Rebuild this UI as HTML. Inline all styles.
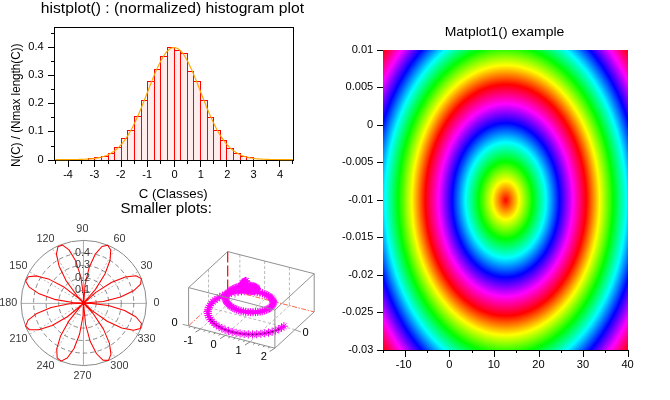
<!DOCTYPE html>
<html>
<head>
<meta charset="utf-8">
<title>Scilab plots</title>
<style>
html,body{margin:0;padding:0;background:#fff;}
#fig{position:relative;width:670px;height:400px;overflow:hidden;background:#fff;font-family:"Liberation Sans",sans-serif;}
#matimg{position:absolute;left:383px;top:50px;width:245px;height:300px;
background:repeating-radial-gradient(ellipse 80.5px 115.6px at 122.7px 150.2px,
#ff0000 0%,#ffff00 16.667%,#00ff00 33.333%,#00ffff 50%,#0000ff 66.667%,#ff00ff 83.333%,#ff0000 100%);}
svg{position:absolute;left:0;top:0;will-change:transform;}
svg text{font-family:"Liberation Sans",sans-serif;}
</style>
</head>
<body>
<div id="fig">
<div id="matimg"></div>
<svg width="670" height="400" viewBox="0 0 670 400">
<g id="hist">
<rect x="88.30" y="158.69" width="6.60" height="1.41" fill="#ffeded"/>
<path d="M88.30 159.60V158.69H94.90V159.60" fill="none" stroke="#ff0000" stroke-width="1" shape-rendering="crispEdges"/>
<rect x="94.90" y="157.98" width="6.60" height="2.12" fill="#ffeded"/>
<path d="M94.90 159.60V157.98H101.50V159.60" fill="none" stroke="#ff0000" stroke-width="1" shape-rendering="crispEdges"/>
<rect x="101.50" y="156.43" width="6.60" height="3.67" fill="#ffeded"/>
<path d="M101.50 159.60V156.43H108.10V159.60" fill="none" stroke="#ff0000" stroke-width="1" shape-rendering="crispEdges"/>
<rect x="108.10" y="153.42" width="6.60" height="6.68" fill="#ffeded"/>
<path d="M108.10 159.60V153.42H114.70V159.60" fill="none" stroke="#ff0000" stroke-width="1" shape-rendering="crispEdges"/>
<rect x="114.70" y="147.41" width="6.60" height="12.69" fill="#ffeded"/>
<path d="M114.70 159.60V147.41H121.30V159.60" fill="none" stroke="#ff0000" stroke-width="1" shape-rendering="crispEdges"/>
<rect x="121.30" y="138.78" width="6.60" height="21.32" fill="#ffeded"/>
<path d="M121.30 159.60V138.78H127.90V159.60" fill="none" stroke="#ff0000" stroke-width="1" shape-rendering="crispEdges"/>
<rect x="127.90" y="130.77" width="6.60" height="29.33" fill="#ffeded"/>
<path d="M127.90 159.60V130.77H134.50V159.60" fill="none" stroke="#ff0000" stroke-width="1" shape-rendering="crispEdges"/>
<rect x="134.50" y="116.67" width="6.60" height="43.43" fill="#ffeded"/>
<path d="M134.50 159.60V116.67H141.10V159.60" fill="none" stroke="#ff0000" stroke-width="1" shape-rendering="crispEdges"/>
<rect x="141.10" y="100.60" width="6.60" height="59.50" fill="#ffeded"/>
<path d="M141.10 159.60V100.60H147.70V159.60" fill="none" stroke="#ff0000" stroke-width="1" shape-rendering="crispEdges"/>
<rect x="147.70" y="81.70" width="6.60" height="78.40" fill="#ffeded"/>
<path d="M147.70 159.60V81.70H154.30V159.60" fill="none" stroke="#ff0000" stroke-width="1" shape-rendering="crispEdges"/>
<rect x="154.30" y="69.86" width="6.60" height="90.24" fill="#ffeded"/>
<path d="M154.30 159.60V69.86H160.90V159.60" fill="none" stroke="#ff0000" stroke-width="1" shape-rendering="crispEdges"/>
<rect x="160.90" y="56.61" width="6.60" height="103.49" fill="#ffeded"/>
<path d="M160.90 159.60V56.61H167.50V159.60" fill="none" stroke="#ff0000" stroke-width="1" shape-rendering="crispEdges"/>
<rect x="167.50" y="47.86" width="6.60" height="112.24" fill="#ffeded"/>
<path d="M167.50 159.60V47.86H174.10V159.60" fill="none" stroke="#ff0000" stroke-width="1" shape-rendering="crispEdges"/>
<rect x="174.10" y="50.68" width="6.60" height="109.42" fill="#ffeded"/>
<path d="M174.10 159.60V50.68H180.70V159.60" fill="none" stroke="#ff0000" stroke-width="1" shape-rendering="crispEdges"/>
<rect x="180.70" y="53.79" width="6.60" height="106.31" fill="#ffeded"/>
<path d="M180.70 159.60V53.79H187.30V159.60" fill="none" stroke="#ff0000" stroke-width="1" shape-rendering="crispEdges"/>
<rect x="187.30" y="71.55" width="6.60" height="88.55" fill="#ffeded"/>
<path d="M187.30 159.60V71.55H193.90V159.60" fill="none" stroke="#ff0000" stroke-width="1" shape-rendering="crispEdges"/>
<rect x="193.90" y="81.14" width="6.60" height="78.96" fill="#ffeded"/>
<path d="M193.90 159.60V81.14H200.50V159.60" fill="none" stroke="#ff0000" stroke-width="1" shape-rendering="crispEdges"/>
<rect x="200.50" y="100.60" width="6.60" height="59.50" fill="#ffeded"/>
<path d="M200.50 159.60V100.60H207.10V159.60" fill="none" stroke="#ff0000" stroke-width="1" shape-rendering="crispEdges"/>
<rect x="207.10" y="117.52" width="6.60" height="42.58" fill="#ffeded"/>
<path d="M207.10 159.60V117.52H213.70V159.60" fill="none" stroke="#ff0000" stroke-width="1" shape-rendering="crispEdges"/>
<rect x="213.70" y="130.49" width="6.60" height="29.61" fill="#ffeded"/>
<path d="M213.70 159.60V130.49H220.30V159.60" fill="none" stroke="#ff0000" stroke-width="1" shape-rendering="crispEdges"/>
<rect x="220.30" y="140.08" width="6.60" height="20.02" fill="#ffeded"/>
<path d="M220.30 159.60V140.08H226.90V159.60" fill="none" stroke="#ff0000" stroke-width="1" shape-rendering="crispEdges"/>
<rect x="226.90" y="148.26" width="6.60" height="11.84" fill="#ffeded"/>
<path d="M226.90 159.60V148.26H233.50V159.60" fill="none" stroke="#ff0000" stroke-width="1" shape-rendering="crispEdges"/>
<rect x="233.50" y="153.33" width="6.60" height="6.77" fill="#ffeded"/>
<path d="M233.50 159.60V153.33H240.10V159.60" fill="none" stroke="#ff0000" stroke-width="1" shape-rendering="crispEdges"/>
<rect x="240.10" y="156.29" width="6.60" height="3.81" fill="#ffeded"/>
<path d="M240.10 159.60V156.29H246.70V159.60" fill="none" stroke="#ff0000" stroke-width="1" shape-rendering="crispEdges"/>
<rect x="246.70" y="157.56" width="6.60" height="2.54" fill="#ffeded"/>
<path d="M246.70 159.60V157.56H253.30V159.60" fill="none" stroke="#ff0000" stroke-width="1" shape-rendering="crispEdges"/>
<rect x="54.5" y="27.3" width="239.0" height="133.0" fill="none" stroke="#000" stroke-width="1" shape-rendering="crispEdges"/>
<polyline points="55.30,159.60 56.49,159.59 57.68,159.59 58.86,159.59 60.05,159.59 61.24,159.59 62.43,159.59 63.62,159.58 64.80,159.58 65.99,159.57 67.18,159.57 68.37,159.56 69.56,159.56 70.74,159.55 71.93,159.54 73.12,159.53 74.31,159.51 75.50,159.50 76.68,159.48 77.87,159.45 79.06,159.43 80.25,159.40 81.44,159.36 82.62,159.32 83.81,159.28 85.00,159.22 86.19,159.16 87.38,159.09 88.56,159.01 89.75,158.92 90.94,158.81 92.13,158.70 93.32,158.56 94.50,158.41 95.69,158.24 96.88,158.04 98.07,157.83 99.26,157.58 100.44,157.31 101.63,157.01 102.82,156.67 104.01,156.30 105.20,155.88 106.38,155.42 107.57,154.92 108.76,154.36 109.95,153.75 111.14,153.08 112.32,152.35 113.51,151.55 114.70,150.68 115.89,149.74 117.08,148.72 118.26,147.63 119.45,146.44 120.64,145.17 121.83,143.81 123.02,142.36 124.20,140.81 125.39,139.16 126.58,137.42 127.77,135.57 128.96,133.62 130.14,131.57 131.33,129.42 132.52,127.17 133.71,124.82 134.90,122.38 136.08,119.85 137.27,117.23 138.46,114.53 139.65,111.76 140.84,108.92 142.02,106.01 143.21,103.06 144.40,100.06 145.59,97.03 146.78,93.99 147.96,90.93 149.15,87.87 150.34,84.83 151.53,81.82 152.72,78.85 153.90,75.94 155.09,73.09 156.28,70.34 157.47,67.68 158.66,65.13 159.84,62.71 161.03,60.42 162.22,58.29 163.41,56.32 164.60,54.53 165.78,52.92 166.97,51.51 168.16,50.30 169.35,49.30 170.54,48.51 171.72,47.95 172.91,47.61 174.10,47.50 175.29,47.61 176.48,47.95 177.66,48.51 178.85,49.30 180.04,50.30 181.23,51.51 182.42,52.92 183.60,54.53 184.79,56.32 185.98,58.29 187.17,60.42 188.36,62.71 189.54,65.13 190.73,67.68 191.92,70.34 193.11,73.09 194.30,75.94 195.48,78.85 196.67,81.82 197.86,84.83 199.05,87.87 200.24,90.93 201.42,93.99 202.61,97.03 203.80,100.06 204.99,103.06 206.18,106.01 207.36,108.92 208.55,111.76 209.74,114.53 210.93,117.23 212.12,119.85 213.30,122.38 214.49,124.82 215.68,127.17 216.87,129.42 218.06,131.57 219.24,133.62 220.43,135.57 221.62,137.42 222.81,139.16 224.00,140.81 225.18,142.36 226.37,143.81 227.56,145.17 228.75,146.44 229.94,147.63 231.12,148.72 232.31,149.74 233.50,150.68 234.69,151.55 235.88,152.35 237.06,153.08 238.25,153.75 239.44,154.36 240.63,154.92 241.82,155.42 243.00,155.88 244.19,156.30 245.38,156.67 246.57,157.01 247.76,157.31 248.94,157.58 250.13,157.83 251.32,158.04 252.51,158.24 253.70,158.41 254.88,158.56 256.07,158.70 257.26,158.81 258.45,158.92 259.64,159.01 260.82,159.09 262.01,159.16 263.20,159.22 264.39,159.28 265.58,159.32 266.76,159.36 267.95,159.40 269.14,159.43 270.33,159.45 271.52,159.48 272.70,159.50 273.89,159.51 275.08,159.53 276.27,159.54 277.46,159.55 278.64,159.56 279.83,159.56 281.02,159.57 282.21,159.57 283.40,159.58 284.58,159.58 285.77,159.59 286.96,159.59 288.15,159.59 289.34,159.59 290.52,159.59 291.71,159.59 292.90,159.60" fill="none" stroke="#ffa800" stroke-width="1.15"/>
<line x1="55.30" y1="160.3" x2="55.30" y2="163.60000000000002" stroke="#000" stroke-width="1" shape-rendering="crispEdges"/>
<line x1="68.50" y1="160.3" x2="68.50" y2="166.60000000000002" stroke="#000" stroke-width="1" shape-rendering="crispEdges"/>
<line x1="81.70" y1="160.3" x2="81.70" y2="163.60000000000002" stroke="#000" stroke-width="1" shape-rendering="crispEdges"/>
<line x1="94.90" y1="160.3" x2="94.90" y2="166.60000000000002" stroke="#000" stroke-width="1" shape-rendering="crispEdges"/>
<line x1="108.10" y1="160.3" x2="108.10" y2="163.60000000000002" stroke="#000" stroke-width="1" shape-rendering="crispEdges"/>
<line x1="121.30" y1="160.3" x2="121.30" y2="166.60000000000002" stroke="#000" stroke-width="1" shape-rendering="crispEdges"/>
<line x1="134.50" y1="160.3" x2="134.50" y2="163.60000000000002" stroke="#000" stroke-width="1" shape-rendering="crispEdges"/>
<line x1="147.70" y1="160.3" x2="147.70" y2="166.60000000000002" stroke="#000" stroke-width="1" shape-rendering="crispEdges"/>
<line x1="160.90" y1="160.3" x2="160.90" y2="163.60000000000002" stroke="#000" stroke-width="1" shape-rendering="crispEdges"/>
<line x1="174.10" y1="160.3" x2="174.10" y2="166.60000000000002" stroke="#000" stroke-width="1" shape-rendering="crispEdges"/>
<line x1="187.30" y1="160.3" x2="187.30" y2="163.60000000000002" stroke="#000" stroke-width="1" shape-rendering="crispEdges"/>
<line x1="200.50" y1="160.3" x2="200.50" y2="166.60000000000002" stroke="#000" stroke-width="1" shape-rendering="crispEdges"/>
<line x1="213.70" y1="160.3" x2="213.70" y2="163.60000000000002" stroke="#000" stroke-width="1" shape-rendering="crispEdges"/>
<line x1="226.90" y1="160.3" x2="226.90" y2="166.60000000000002" stroke="#000" stroke-width="1" shape-rendering="crispEdges"/>
<line x1="240.10" y1="160.3" x2="240.10" y2="163.60000000000002" stroke="#000" stroke-width="1" shape-rendering="crispEdges"/>
<line x1="253.30" y1="160.3" x2="253.30" y2="166.60000000000002" stroke="#000" stroke-width="1" shape-rendering="crispEdges"/>
<line x1="266.50" y1="160.3" x2="266.50" y2="163.60000000000002" stroke="#000" stroke-width="1" shape-rendering="crispEdges"/>
<line x1="279.70" y1="160.3" x2="279.70" y2="166.60000000000002" stroke="#000" stroke-width="1" shape-rendering="crispEdges"/>
<line x1="292.90" y1="160.3" x2="292.90" y2="163.60000000000002" stroke="#000" stroke-width="1" shape-rendering="crispEdges"/>
<text x="68.00" y="178.00" font-size="10.3" text-anchor="middle" fill="#000" textLength="9.67" lengthAdjust="spacingAndGlyphs">-4</text>
<text x="94.40" y="178.00" font-size="10.3" text-anchor="middle" fill="#000" textLength="9.67" lengthAdjust="spacingAndGlyphs">-3</text>
<text x="120.80" y="178.00" font-size="10.3" text-anchor="middle" fill="#000" textLength="9.67" lengthAdjust="spacingAndGlyphs">-2</text>
<text x="147.20" y="178.00" font-size="10.3" text-anchor="middle" fill="#000" textLength="9.67" lengthAdjust="spacingAndGlyphs">-1</text>
<text x="174.50" y="178.00" font-size="10.3" text-anchor="middle" fill="#000" textLength="6.17" lengthAdjust="spacingAndGlyphs">0</text>
<text x="200.90" y="178.00" font-size="10.3" text-anchor="middle" fill="#000" textLength="6.17" lengthAdjust="spacingAndGlyphs">1</text>
<text x="227.30" y="178.00" font-size="10.3" text-anchor="middle" fill="#000" textLength="6.17" lengthAdjust="spacingAndGlyphs">2</text>
<text x="253.70" y="178.00" font-size="10.3" text-anchor="middle" fill="#000" textLength="6.17" lengthAdjust="spacingAndGlyphs">3</text>
<text x="280.10" y="178.00" font-size="10.3" text-anchor="middle" fill="#000" textLength="6.17" lengthAdjust="spacingAndGlyphs">4</text>
<line x1="48.0" y1="160.10" x2="54.5" y2="160.10" stroke="#000" stroke-width="1" shape-rendering="crispEdges"/>
<line x1="50.9" y1="146.00" x2="54.5" y2="146.00" stroke="#000" stroke-width="1" shape-rendering="crispEdges"/>
<line x1="48.0" y1="131.90" x2="54.5" y2="131.90" stroke="#000" stroke-width="1" shape-rendering="crispEdges"/>
<line x1="50.9" y1="117.80" x2="54.5" y2="117.80" stroke="#000" stroke-width="1" shape-rendering="crispEdges"/>
<line x1="48.0" y1="103.70" x2="54.5" y2="103.70" stroke="#000" stroke-width="1" shape-rendering="crispEdges"/>
<line x1="50.9" y1="89.60" x2="54.5" y2="89.60" stroke="#000" stroke-width="1" shape-rendering="crispEdges"/>
<line x1="48.0" y1="75.50" x2="54.5" y2="75.50" stroke="#000" stroke-width="1" shape-rendering="crispEdges"/>
<line x1="50.9" y1="61.40" x2="54.5" y2="61.40" stroke="#000" stroke-width="1" shape-rendering="crispEdges"/>
<line x1="48.0" y1="47.30" x2="54.5" y2="47.30" stroke="#000" stroke-width="1" shape-rendering="crispEdges"/>
<line x1="50.9" y1="33.20" x2="54.5" y2="33.20" stroke="#000" stroke-width="1" shape-rendering="crispEdges"/>
<text x="43.80" y="163.00" font-size="10.3" text-anchor="end" fill="#000" textLength="6.17" lengthAdjust="spacingAndGlyphs">0</text>
<text x="43.80" y="134.00" font-size="10.3" text-anchor="end" fill="#000" textLength="15.42" lengthAdjust="spacingAndGlyphs">0.1</text>
<text x="43.80" y="106.00" font-size="10.3" text-anchor="end" fill="#000" textLength="15.42" lengthAdjust="spacingAndGlyphs">0.2</text>
<text x="43.80" y="78.00" font-size="10.3" text-anchor="end" fill="#000" textLength="15.42" lengthAdjust="spacingAndGlyphs">0.3</text>
<text x="43.80" y="50.00" font-size="10.3" text-anchor="end" fill="#000" textLength="15.42" lengthAdjust="spacingAndGlyphs">0.4</text>
<text x="172.40" y="12.70" font-size="14.6" text-anchor="middle" fill="#000" textLength="263.20" lengthAdjust="spacingAndGlyphs">histplot() : (normalized) histogram plot</text>
<text x="173.20" y="197.90" font-size="12.2" text-anchor="middle" fill="#000" textLength="69.00" lengthAdjust="spacingAndGlyphs">C (Classes)</text>
<text transform="translate(20,105.4) rotate(-90)" font-size="12.4" text-anchor="middle" textLength="123.4" lengthAdjust="spacingAndGlyphs">N(C) / (Nmax length(C))</text>
<text x="166.20" y="212.90" font-size="14.8" text-anchor="middle" fill="#000" textLength="91.30" lengthAdjust="spacingAndGlyphs">Smaller plots:</text>
</g>
<g id="polar" fill="none">
<line x1="83.7" y1="303.4" x2="146.30" y2="303.4" stroke="#a4a4a4" stroke-width="0.9"/>
<line x1="83.7" y1="303.0" x2="137.91" y2="271.70" stroke="#a0a0a0" stroke-width="0.7" stroke-dasharray="2,2"/>
<line x1="83.7" y1="303.0" x2="115.00" y2="248.79" stroke="#a0a0a0" stroke-width="0.7" stroke-dasharray="2,2"/>
<line x1="83.45" y1="303.0" x2="83.45" y2="240.40" stroke="#a4a4a4" stroke-width="0.9"/>
<line x1="83.7" y1="303.0" x2="52.40" y2="248.79" stroke="#a0a0a0" stroke-width="0.7" stroke-dasharray="2,2"/>
<line x1="83.7" y1="303.0" x2="29.49" y2="271.70" stroke="#a0a0a0" stroke-width="0.7" stroke-dasharray="2,2"/>
<line x1="83.7" y1="303.4" x2="21.10" y2="303.4" stroke="#a4a4a4" stroke-width="0.9"/>
<line x1="83.7" y1="303.0" x2="29.49" y2="334.30" stroke="#a0a0a0" stroke-width="0.7" stroke-dasharray="2,2"/>
<line x1="83.7" y1="303.0" x2="52.40" y2="357.21" stroke="#a0a0a0" stroke-width="0.7" stroke-dasharray="2,2"/>
<line x1="83.45" y1="303.0" x2="83.45" y2="365.60" stroke="#a4a4a4" stroke-width="0.9"/>
<line x1="83.7" y1="303.0" x2="115.00" y2="357.21" stroke="#a0a0a0" stroke-width="0.7" stroke-dasharray="2,2"/>
<line x1="83.7" y1="303.0" x2="137.91" y2="334.30" stroke="#a0a0a0" stroke-width="0.7" stroke-dasharray="2,2"/>
<circle cx="83.7" cy="303.0" r="12.52" stroke="#6c6c6c" stroke-width="0.8" stroke-dasharray="4.5,3"/>
<circle cx="83.7" cy="303.0" r="25.04" stroke="#6c6c6c" stroke-width="0.8" stroke-dasharray="4.5,3"/>
<circle cx="83.7" cy="303.0" r="37.56" stroke="#6c6c6c" stroke-width="0.8" stroke-dasharray="4.5,3"/>
<circle cx="83.7" cy="303.0" r="50.08" stroke="#6c6c6c" stroke-width="0.8" stroke-dasharray="4.5,3"/>
<circle cx="83.7" cy="303.0" r="62.6" stroke="#8a8a8a" stroke-width="1"/>
<polyline points="83.70,303.00 103.33,301.43 120.61,297.04 133.51,290.81 140.63,284.13 141.33,278.63 135.87,275.84 125.30,276.92 111.28,282.46 95.87,292.32 81.15,305.62 68.96,320.82 60.61,335.97 56.72,348.96 57.16,357.83 61.10,361.12 67.22,358.06 73.92,348.71 79.62,334.01 83.06,315.62 83.49,295.71 80.81,276.67 75.62,260.79 69.04,249.87 62.60,245.07 57.93,246.68 56.44,254.17 59.12,266.22 66.29,280.99 77.55,296.39 91.75,310.37 107.17,321.28 121.77,328.03 133.46,330.29 140.44,328.45 141.45,323.53 136.04,317.01 124.59,310.51 108.32,305.51 89.10,303.12 69.23,303.85 51.10,307.54 36.85,313.40 28.07,320.11 25.62,326.09 29.49,329.75 38.83,329.80 52.11,325.48 67.35,316.73 82.45,304.23 95.48,289.36 104.96,273.99 110.07,260.22 110.75,250.06 107.64,245.16 101.95,246.48 95.25,254.18 89.14,267.58 84.99,285.17 83.71,304.91 85.58,324.41 90.19,341.35 96.53,353.75 103.16,360.27 108.47,360.37 110.94,354.37 109.45,343.38 103.48,329.14 93.24,313.71 79.69,299.16 64.40,287.29 49.36,279.35 36.69,275.89 28.30,276.70 25.59,280.92 29.27,287.16 39.18,293.83 54.31,299.36 72.95,302.54 83.70,303.00" stroke="#ff0000" stroke-width="1.05" stroke-linejoin="round"/>
</g>
<g id="polarlabels">
<text x="82.50" y="293.00" font-size="10.0" text-anchor="middle" fill="#3a3a3a" textLength="15.03" lengthAdjust="spacingAndGlyphs">0.1</text>
<text x="82.50" y="281.00" font-size="10.0" text-anchor="middle" fill="#3a3a3a" textLength="15.03" lengthAdjust="spacingAndGlyphs">0.2</text>
<text x="82.50" y="268.00" font-size="10.0" text-anchor="middle" fill="#3a3a3a" textLength="15.03" lengthAdjust="spacingAndGlyphs">0.3</text>
<text x="82.50" y="256.00" font-size="10.0" text-anchor="middle" fill="#3a3a3a" textLength="15.03" lengthAdjust="spacingAndGlyphs">0.4</text>
<text x="82.40" y="232.00" font-size="10.0" text-anchor="middle" fill="#3a3a3a" textLength="12.02" lengthAdjust="spacingAndGlyphs">90</text>
<text x="119.45" y="242.00" font-size="10.0" text-anchor="middle" fill="#3a3a3a" textLength="12.02" lengthAdjust="spacingAndGlyphs">60</text>
<text x="146.50" y="269.00" font-size="10.0" text-anchor="middle" fill="#3a3a3a" textLength="12.02" lengthAdjust="spacingAndGlyphs">30</text>
<text x="156.60" y="306.00" font-size="10.0" text-anchor="middle" fill="#3a3a3a" textLength="6.01" lengthAdjust="spacingAndGlyphs">0</text>
<text x="146.50" y="342.00" font-size="10.0" text-anchor="middle" fill="#3a3a3a" textLength="18.03" lengthAdjust="spacingAndGlyphs">330</text>
<text x="119.40" y="369.00" font-size="10.0" text-anchor="middle" fill="#3a3a3a" textLength="18.03" lengthAdjust="spacingAndGlyphs">300</text>
<text x="82.50" y="379.00" font-size="10.0" text-anchor="middle" fill="#3a3a3a" textLength="18.03" lengthAdjust="spacingAndGlyphs">270</text>
<text x="45.55" y="369.00" font-size="10.0" text-anchor="middle" fill="#3a3a3a" textLength="18.03" lengthAdjust="spacingAndGlyphs">240</text>
<text x="18.50" y="342.00" font-size="10.0" text-anchor="middle" fill="#3a3a3a" textLength="18.03" lengthAdjust="spacingAndGlyphs">210</text>
<text x="8.35" y="306.00" font-size="10.0" text-anchor="middle" fill="#3a3a3a" textLength="18.03" lengthAdjust="spacingAndGlyphs">180</text>
<text x="18.40" y="269.00" font-size="10.0" text-anchor="middle" fill="#3a3a3a" textLength="18.03" lengthAdjust="spacingAndGlyphs">150</text>
<text x="45.60" y="242.00" font-size="10.0" text-anchor="middle" fill="#3a3a3a" textLength="18.03" lengthAdjust="spacingAndGlyphs">120</text>
</g>
<g id="p3d" fill="none">
<line x1="227.70" y1="251.60" x2="227.70" y2="289.80" stroke="#ff0000" stroke-width="1.2" stroke-dasharray="11,3"/>
<line x1="227.70" y1="289.80" x2="188.60" y2="325.80" stroke="#ff3010" stroke-width="0.75" stroke-dasharray="5,1.5,1.5,1.5"/>
<line x1="227.70" y1="289.80" x2="314.20" y2="311.90" stroke="#ff3010" stroke-width="0.75" stroke-dasharray="5,1.5,1.5,1.5"/>
<line x1="239.84" y1="254.70" x2="239.84" y2="292.90" stroke="#a8a8a8" stroke-width="0.8" stroke-dasharray="3,2"/>
<line x1="239.84" y1="292.90" x2="200.72" y2="328.94" stroke="#a8a8a8" stroke-width="0.8" stroke-dasharray="3,2"/>
<line x1="264.63" y1="261.04" x2="264.63" y2="299.24" stroke="#a8a8a8" stroke-width="0.8" stroke-dasharray="3,2"/>
<line x1="264.63" y1="299.24" x2="225.44" y2="335.36" stroke="#a8a8a8" stroke-width="0.8" stroke-dasharray="3,2"/>
<line x1="289.41" y1="267.37" x2="289.41" y2="305.57" stroke="#a8a8a8" stroke-width="0.8" stroke-dasharray="3,2"/>
<line x1="289.41" y1="305.57" x2="250.17" y2="341.78" stroke="#a8a8a8" stroke-width="0.8" stroke-dasharray="3,2"/>
<line x1="294.94" y1="329.69" x2="208.54" y2="307.44" stroke="#a8a8a8" stroke-width="0.8" stroke-dasharray="3,2"/>
<line x1="208.54" y1="307.44" x2="208.54" y2="269.24" stroke="#a8a8a8" stroke-width="0.8" stroke-dasharray="3,2"/>
</g>
<defs><marker id="ast" markerWidth="9" markerHeight="9" refX="4.5" refY="4.5" markerUnits="userSpaceOnUse" orient="0">
<path d="M0.5 4.5H8.5M4.5 0.4V8.6M1.8 1.8L7.2 7.2M7.2 1.8L1.8 7.2" stroke="#ff00ff" stroke-width="1.0" fill="none"/></marker>
<marker id="dot" markerWidth="3" markerHeight="3" refX="1.5" refY="1.5" markerUnits="userSpaceOnUse"><circle cx="1.5" cy="1.5" r="0.7" fill="#000" fill-opacity="0.6"/></marker></defs>
<polyline points="283.9,326.2 281.5,327.8 278.7,329.2 275.6,330.5 272.2,331.7 268.5,332.6 264.7,333.3 260.8,333.9 256.7,334.2 252.5,334.4 248.3,334.3 244.2,334.0 240.1,333.5 236.1,332.8 232.2,332.0 228.6,330.9 225.1,329.7 221.9,328.3 219.0,326.8 216.3,325.1 214.0,323.4 212.1,321.5 210.5,319.6 209.2,317.6 208.4,315.5 207.9,313.5 207.9,311.4 208.2,309.4 208.8,307.4 209.9,305.5 211.2,303.6 212.9,301.8 214.9,300.1 217.2,298.6 219.7,297.1 222.4,295.8 225.3,294.7 228.4,293.7 231.6,292.8 234.9,292.2 238.2,291.7 241.5,291.3 244.8,291.1 248.1,291.1 251.2,291.3 254.3,291.6 257.2,292.0 259.9,292.6 262.5,293.2 264.8,294.0 266.8,294.9 268.6,295.9 270.1,297.0 271.4,298.1 272.3,299.2 273.0,300.4 273.3,301.6 273.4,302.8 273.2,304.0 272.6,305.1 271.8,306.2 270.8,307.2 269.5,308.2 268.0,309.0 266.3,309.8 264.4,310.5 262.3,311.1 260.1,311.6 257.8,311.9 255.5,312.1 253.0,312.2 250.6,312.2 248.1,312.0 245.7,311.8 243.3,311.4 241.0,310.9 238.8,310.3 236.7,309.5 234.8,308.7 233.0,307.8 231.4,306.8 229.9,305.8 228.7,304.7 227.7,303.6 226.8,302.4 226.2,301.2 225.8,300.0 225.6,298.7 225.7,297.5 225.9,296.3 226.3,295.2 226.9,294.0 227.7,293.0 228.7,292.0 229.8,291.0 231.0,290.1 232.3,289.3 233.8,288.6 235.3,287.9 236.9,287.3 238.5,286.8 240.1,286.4 241.7,286.1 243.3,285.9 244.9,285.7 246.5,285.7 247.9,285.6 249.3,285.7 250.6,285.8 251.8,286.0 252.9,286.2 253.8,286.5 254.7,286.8 255.3,287.2 255.9,287.5 256.3,287.9 256.6,288.2 256.8,288.6 256.8,289.0 256.7,289.3 256.5,289.6 256.1,289.9 255.7,290.2 255.2,290.4 254.6,290.6 253.9,290.8 253.2,290.8 252.4,290.9 251.6,290.9 250.8,290.8 250.0,290.7 249.2,290.6 248.3,290.4 247.6,290.1 246.8,289.9 246.1,289.5 245.5,289.2 244.9,288.8 244.3,288.4 243.9,287.9 243.5,287.5 243.2,287.0 242.9,286.5 242.8,286.1 242.7,285.6 242.7,285.1 242.7,284.7 242.8,284.3 243.0,283.8 243.2,283.4 243.4,283.1 243.7,282.7 244.0,282.4 244.3,282.1 244.6,281.8 244.9,281.6 245.2,281.4 245.5,281.2 245.7,281.1 246.0,280.9" fill="none" stroke="#ff00ff" stroke-width="2.3" stroke-linejoin="round" stroke-linecap="round" stroke-opacity="0.92"/>
<polyline points="231.6,292.8 234.9,292.2 238.2,291.7 241.5,291.3 244.8,291.1 248.1,291.1 251.2,291.3 254.3,291.6 257.2,292.0 259.9,292.6 262.5,293.2 264.8,294.0 266.8,294.9 268.6,295.9 270.1,297.0 271.4,298.1 272.3,299.2 273.0,300.4 273.3,301.6 273.4,302.8 273.2,304.0 272.6,305.1 271.8,306.2 270.8,307.2 269.5,308.2 268.0,309.0 266.3,309.8 264.4,310.5 262.3,311.1 260.1,311.6 257.8,311.9 255.5,312.1 253.0,312.2 250.6,312.2 248.1,312.0 245.7,311.8 243.3,311.4 241.0,310.9 238.8,310.3 236.7,309.5 234.8,308.7 233.0,307.8 231.4,306.8 229.9,305.8 228.7,304.7 227.7,303.6 226.8,302.4 226.2,301.2 225.8,300.0 225.6,298.7 225.7,297.5 225.9,296.3 226.3,295.2 226.9,294.0 227.7,293.0 228.7,292.0 229.8,291.0 231.0,290.1 232.3,289.3 233.8,288.6 235.3,287.9 236.9,287.3 238.5,286.8 240.1,286.4 241.7,286.1 243.3,285.9 244.9,285.7 246.5,285.7 247.9,285.6 249.3,285.7 250.6,285.8 251.8,286.0 252.9,286.2 253.8,286.5 254.7,286.8 255.3,287.2 255.9,287.5 256.3,287.9 256.6,288.2 256.8,288.6 256.8,289.0 256.7,289.3 256.5,289.6 256.1,289.9 255.7,290.2 255.2,290.4 254.6,290.6 253.9,290.8 253.2,290.8 252.4,290.9 251.6,290.9 250.8,290.8 250.0,290.7 249.2,290.6 248.3,290.4 247.6,290.1 246.8,289.9 246.1,289.5 245.5,289.2 244.9,288.8 244.3,288.4 243.9,287.9 243.5,287.5 243.2,287.0 242.9,286.5 242.8,286.1 242.7,285.6 242.7,285.1 242.7,284.7 242.8,284.3 243.0,283.8 243.2,283.4 243.4,283.1 243.7,282.7 244.0,282.4 244.3,282.1 244.6,281.8 244.9,281.6 245.2,281.4 245.5,281.2 245.7,281.1 246.0,280.9" fill="none" stroke="#ff00ff" stroke-width="3.6" stroke-linejoin="round" stroke-linecap="round"/>
<polyline points="283.9,326.2 281.5,327.8 278.7,329.2 275.6,330.5 272.2,331.7 268.5,332.6 264.7,333.3 260.8,333.9 256.7,334.2 252.5,334.4 248.3,334.3 244.2,334.0 240.1,333.5 236.1,332.8 232.2,332.0 228.6,330.9 225.1,329.7 221.9,328.3 219.0,326.8 216.3,325.1 214.0,323.4 212.1,321.5 210.5,319.6 209.2,317.6 208.4,315.5 207.9,313.5 207.9,311.4 208.2,309.4 208.8,307.4 209.9,305.5 211.2,303.6 212.9,301.8 214.9,300.1 217.2,298.6 219.7,297.1 222.4,295.8 225.3,294.7 228.4,293.7 231.6,292.8 234.9,292.2 238.2,291.7 241.5,291.3 244.8,291.1 248.1,291.1 251.2,291.3 254.3,291.6 257.2,292.0 259.9,292.6 262.5,293.2 264.8,294.0 266.8,294.9 268.6,295.9 270.1,297.0 271.4,298.1 272.3,299.2 273.0,300.4 273.3,301.6 273.4,302.8 273.2,304.0 272.6,305.1 271.8,306.2 270.8,307.2 269.5,308.2 268.0,309.0 266.3,309.8 264.4,310.5 262.3,311.1 260.1,311.6 257.8,311.9 255.5,312.1 253.0,312.2 250.6,312.2 248.1,312.0 245.7,311.8 243.3,311.4 241.0,310.9 238.8,310.3 236.7,309.5 234.8,308.7 233.0,307.8 231.4,306.8 229.9,305.8 228.7,304.7 227.7,303.6 226.8,302.4 226.2,301.2 225.8,300.0 225.6,298.7 225.7,297.5 225.9,296.3 226.3,295.2 226.9,294.0 227.7,293.0 228.7,292.0 229.8,291.0 231.0,290.1 232.3,289.3 233.8,288.6 235.3,287.9 236.9,287.3 238.5,286.8 240.1,286.4 241.7,286.1 243.3,285.9 244.9,285.7 246.5,285.7 247.9,285.6 249.3,285.7 250.6,285.8 251.8,286.0 252.9,286.2 253.8,286.5 254.7,286.8 255.3,287.2 255.9,287.5 256.3,287.9 256.6,288.2 256.8,288.6 256.8,289.0 256.7,289.3 256.5,289.6 256.1,289.9 255.7,290.2 255.2,290.4 254.6,290.6 253.9,290.8 253.2,290.8 252.4,290.9 251.6,290.9 250.8,290.8 250.0,290.7 249.2,290.6 248.3,290.4 247.6,290.1 246.8,289.9 246.1,289.5 245.5,289.2 244.9,288.8 244.3,288.4 243.9,287.9 243.5,287.5 243.2,287.0 242.9,286.5 242.8,286.1 242.7,285.6 242.7,285.1 242.7,284.7 242.8,284.3 243.0,283.8 243.2,283.4 243.4,283.1 243.7,282.7 244.0,282.4 244.3,282.1 244.6,281.8 244.9,281.6 245.2,281.4 245.5,281.2 245.7,281.1 246.0,280.9" fill="none" stroke="none" marker-start="url(#ast)" marker-mid="url(#ast)" marker-end="url(#ast)"/>
<polyline points="278.7,329.2 275.6,330.5 272.2,331.7 268.5,332.6 264.7,333.3 260.8,333.9 256.7,334.2 252.5,334.4 248.3,334.3 244.2,334.0 240.1,333.5 236.1,332.8 232.2,332.0 228.6,330.9 225.1,329.7 221.9,328.3 219.0,326.8 216.3,325.1 214.0,323.4 212.1,321.5 210.5,319.6 209.2,317.6 208.4,315.5 207.9,313.5 207.9,311.4" fill="none" stroke="#000" stroke-width="0.8" stroke-opacity="0.12"/>
<polyline points="278.7,329.2 275.6,330.5 272.2,331.7 268.5,332.6 264.7,333.3 260.8,333.9 256.7,334.2 252.5,334.4 248.3,334.3 244.2,334.0 240.1,333.5 236.1,332.8 232.2,332.0 228.6,330.9 225.1,329.7 221.9,328.3 219.0,326.8 216.3,325.1 214.0,323.4 212.1,321.5 210.5,319.6 209.2,317.6" fill="none" stroke="none" marker-start="url(#dot)" marker-mid="url(#dot)"/>
<g id="p3dfront" fill="none">
<line x1="227.70" y1="251.60" x2="188.60" y2="287.60" stroke="#909090" stroke-width="1"/>
<line x1="188.60" y1="287.60" x2="274.90" y2="310.00" stroke="#909090" stroke-width="1"/>
<line x1="274.90" y1="310.00" x2="314.20" y2="273.70" stroke="#909090" stroke-width="1"/>
<line x1="314.20" y1="273.70" x2="227.70" y2="251.60" stroke="#909090" stroke-width="1"/>
<line x1="188.60" y1="287.60" x2="188.60" y2="325.80" stroke="#909090" stroke-width="1"/>
<line x1="274.90" y1="310.00" x2="274.90" y2="348.20" stroke="#909090" stroke-width="1"/>
<line x1="314.20" y1="273.70" x2="314.20" y2="311.90" stroke="#909090" stroke-width="1"/>
<line x1="188.60" y1="325.80" x2="274.90" y2="348.20" stroke="#909090" stroke-width="1"/>
<line x1="274.90" y1="348.20" x2="314.20" y2="311.90" stroke="#909090" stroke-width="1"/>
<line x1="190.83" y1="326.38" x2="188.79" y2="327.65" stroke="#858585" stroke-width="1"/>
<line x1="195.77" y1="327.66" x2="193.73" y2="328.93" stroke="#858585" stroke-width="1"/>
<line x1="200.72" y1="328.94" x2="195.45" y2="332.23" stroke="#858585" stroke-width="1"/>
<line x1="205.66" y1="330.23" x2="203.62" y2="331.50" stroke="#858585" stroke-width="1"/>
<line x1="210.61" y1="331.51" x2="208.57" y2="332.78" stroke="#858585" stroke-width="1"/>
<line x1="215.55" y1="332.80" x2="213.51" y2="334.07" stroke="#858585" stroke-width="1"/>
<line x1="220.50" y1="334.08" x2="218.46" y2="335.35" stroke="#858585" stroke-width="1"/>
<line x1="225.44" y1="335.36" x2="220.17" y2="338.65" stroke="#858585" stroke-width="1"/>
<line x1="230.39" y1="336.65" x2="228.35" y2="337.92" stroke="#858585" stroke-width="1"/>
<line x1="235.34" y1="337.93" x2="233.30" y2="339.20" stroke="#858585" stroke-width="1"/>
<line x1="240.28" y1="339.21" x2="238.24" y2="340.49" stroke="#858585" stroke-width="1"/>
<line x1="245.23" y1="340.50" x2="243.19" y2="341.77" stroke="#858585" stroke-width="1"/>
<line x1="250.17" y1="341.78" x2="244.90" y2="345.07" stroke="#858585" stroke-width="1"/>
<line x1="255.12" y1="343.07" x2="253.08" y2="344.34" stroke="#858585" stroke-width="1"/>
<line x1="260.06" y1="344.35" x2="258.02" y2="345.62" stroke="#858585" stroke-width="1"/>
<line x1="265.01" y1="345.63" x2="262.97" y2="346.90" stroke="#858585" stroke-width="1"/>
<line x1="269.95" y1="346.92" x2="267.91" y2="348.19" stroke="#858585" stroke-width="1"/>
<line x1="274.90" y1="348.20" x2="269.63" y2="351.49" stroke="#858585" stroke-width="1"/>
<line x1="294.94" y1="329.69" x2="300.80" y2="331.95" stroke="#909090" stroke-width="0.9"/>
<line x1="188.60" y1="325.80" x2="182.60" y2="324.30" stroke="#909090" stroke-width="0.9"/>
</g>
<g id="p3dlabels">
<text x="188.30" y="344.00" font-size="10.3" text-anchor="middle" fill="#000" textLength="9.67" lengthAdjust="spacingAndGlyphs">-1</text>
<text x="213.50" y="348.00" font-size="10.3" text-anchor="middle" fill="#000" textLength="6.17" lengthAdjust="spacingAndGlyphs">0</text>
<text x="238.50" y="354.00" font-size="10.3" text-anchor="middle" fill="#000" textLength="6.17" lengthAdjust="spacingAndGlyphs">1</text>
<text x="263.80" y="360.00" font-size="10.3" text-anchor="middle" fill="#000" textLength="6.17" lengthAdjust="spacingAndGlyphs">2</text>
<text x="305.50" y="336.00" font-size="10.3" text-anchor="middle" fill="#000" textLength="6.17" lengthAdjust="spacingAndGlyphs">0</text>
<text x="174.50" y="326.00" font-size="10.3" text-anchor="middle" fill="#000" textLength="6.17" lengthAdjust="spacingAndGlyphs">0</text>
</g>
<g id="mat" shape-rendering="crispEdges">
<text x="504.50" y="35.90" font-size="12.3" text-anchor="middle" fill="#000" textLength="119.70" lengthAdjust="spacingAndGlyphs">Matplot1() example</text>
<line x1="377.4" y1="350.2" x2="628.7" y2="350.2" stroke="#000" stroke-width="1"/>
<line x1="377.4" y1="50.40" x2="383.0" y2="50.40" stroke="#000" stroke-width="1"/>
<text x="373.30" y="53.00" font-size="10.3" text-anchor="end" fill="#000" textLength="21.59" lengthAdjust="spacingAndGlyphs">0.01</text>
<line x1="377.4" y1="87.88" x2="383.0" y2="87.88" stroke="#000" stroke-width="1"/>
<text x="373.30" y="90.00" font-size="10.3" text-anchor="end" fill="#000" textLength="27.76" lengthAdjust="spacingAndGlyphs">0.005</text>
<line x1="377.4" y1="125.35" x2="383.0" y2="125.35" stroke="#000" stroke-width="1"/>
<text x="373.30" y="128.00" font-size="10.3" text-anchor="end" fill="#000" textLength="6.17" lengthAdjust="spacingAndGlyphs">0</text>
<line x1="377.4" y1="162.83" x2="383.0" y2="162.83" stroke="#000" stroke-width="1"/>
<text x="373.30" y="165.00" font-size="10.3" text-anchor="end" fill="#000" textLength="31.26" lengthAdjust="spacingAndGlyphs">-0.005</text>
<line x1="377.4" y1="200.30" x2="383.0" y2="200.30" stroke="#000" stroke-width="1"/>
<text x="373.30" y="203.00" font-size="10.3" text-anchor="end" fill="#000" textLength="25.09" lengthAdjust="spacingAndGlyphs">-0.01</text>
<line x1="377.4" y1="237.78" x2="383.0" y2="237.78" stroke="#000" stroke-width="1"/>
<text x="373.30" y="240.00" font-size="10.3" text-anchor="end" fill="#000" textLength="31.26" lengthAdjust="spacingAndGlyphs">-0.015</text>
<line x1="377.4" y1="275.25" x2="383.0" y2="275.25" stroke="#000" stroke-width="1"/>
<text x="373.30" y="278.00" font-size="10.3" text-anchor="end" fill="#000" textLength="25.09" lengthAdjust="spacingAndGlyphs">-0.02</text>
<line x1="377.4" y1="312.72" x2="383.0" y2="312.72" stroke="#000" stroke-width="1"/>
<text x="373.30" y="315.00" font-size="10.3" text-anchor="end" fill="#000" textLength="31.26" lengthAdjust="spacingAndGlyphs">-0.025</text>
<line x1="377.4" y1="350.20" x2="383.0" y2="350.20" stroke="#000" stroke-width="1"/>
<text x="373.30" y="353.00" font-size="10.3" text-anchor="end" fill="#000" textLength="25.09" lengthAdjust="spacingAndGlyphs">-0.03</text>
<line x1="383.00" y1="350.2" x2="383.00" y2="353.2" stroke="#000" stroke-width="1"/>
<line x1="405.29" y1="350.2" x2="405.29" y2="356.59999999999997" stroke="#000" stroke-width="1"/>
<text x="403.79" y="368.00" font-size="10.3" text-anchor="middle" fill="#000" textLength="15.84" lengthAdjust="spacingAndGlyphs">-10</text>
<line x1="427.58" y1="350.2" x2="427.58" y2="353.2" stroke="#000" stroke-width="1"/>
<line x1="449.87" y1="350.2" x2="449.87" y2="356.59999999999997" stroke="#000" stroke-width="1"/>
<text x="449.27" y="368.00" font-size="10.3" text-anchor="middle" fill="#000" textLength="6.17" lengthAdjust="spacingAndGlyphs">0</text>
<line x1="472.16" y1="350.2" x2="472.16" y2="353.2" stroke="#000" stroke-width="1"/>
<line x1="494.45" y1="350.2" x2="494.45" y2="356.59999999999997" stroke="#000" stroke-width="1"/>
<text x="493.85" y="368.00" font-size="10.3" text-anchor="middle" fill="#000" textLength="12.34" lengthAdjust="spacingAndGlyphs">10</text>
<line x1="516.75" y1="350.2" x2="516.75" y2="353.2" stroke="#000" stroke-width="1"/>
<line x1="539.04" y1="350.2" x2="539.04" y2="356.59999999999997" stroke="#000" stroke-width="1"/>
<text x="538.44" y="368.00" font-size="10.3" text-anchor="middle" fill="#000" textLength="12.34" lengthAdjust="spacingAndGlyphs">20</text>
<line x1="561.33" y1="350.2" x2="561.33" y2="353.2" stroke="#000" stroke-width="1"/>
<line x1="583.62" y1="350.2" x2="583.62" y2="356.59999999999997" stroke="#000" stroke-width="1"/>
<text x="583.02" y="368.00" font-size="10.3" text-anchor="middle" fill="#000" textLength="12.34" lengthAdjust="spacingAndGlyphs">30</text>
<line x1="605.91" y1="350.2" x2="605.91" y2="353.2" stroke="#000" stroke-width="1"/>
<line x1="628.20" y1="350.2" x2="628.20" y2="356.59999999999997" stroke="#000" stroke-width="1"/>
<text x="627.60" y="368.00" font-size="10.3" text-anchor="middle" fill="#000" textLength="12.34" lengthAdjust="spacingAndGlyphs">40</text>
</g>
</svg>
</div>
</body>
</html>
